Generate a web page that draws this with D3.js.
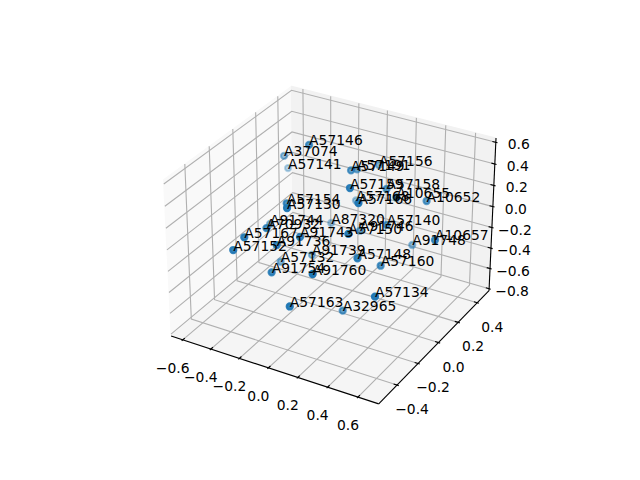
<!DOCTYPE html>
<meta charset="utf-8">
<head>
    <style>
        body { margin: 0; background: #fff; }
        text { font-family: "DejaVu Sans"; font-size: 13.89px; fill: #000; }
    </style>
</head>
<body>
    <div id="chart"></div>

    <script src="https://d3js.org/d3.v7.min.js"></script>
    <script>
        // chart data
        const labels = ['A57146','A37074','A57141','A57149','A57191','A57156','A57159','A57158','A57168','A57166',
                        'A10655','A10652','A57140','A91746','A57150','A91748','A10657','A57160','A57148','A57134',
                        'A32965','A57163','A91760','A91754','A57132','A91739','A91736','A57152','A57167','A91744',
                        'A70932','A91743','A87320','A57154','A57130'];
        const xs = [-0.158,-0.467,-0.545,0.056,0.012,0.084,0.224,0.266,-0.056,0.324,
                    0.434,0.489,0.320,0.120,0.318,0.345,0.656,0.384,0.362,0.539,
                    0.221,0.132,0.236,-0.084,-0.285,-0.169,-0.098,-0.268,-0.232,-0.437,
                    -0.213,0.007,-0.190,-0.147,-0.022];
        const ys = [0.008,0.178,0.311,0.104,0.221,0.331,-0.135,0.148,0.307,-0.195,
                    0.001,0.216,0.077,0.104,-0.276,0.298,0.056,-0.067,-0.253,-0.337,
                    -0.193,-0.544,-0.480,-0.423,-0.094,0.042,-0.359,-0.514,-0.464,0.006,
                    -0.301,-0.291,0.251,-0.207,-0.362];
        const zs = [0.672,0.324,0.072,0.439,0.336,0.313,0.539,0.309,-0.055,0.493,
                    0.418,0.224,0.056,-0.100,0.283,-0.320,0.067,-0.171,0.059,-0.142,
                    -0.547,-0.208,0.072,-0.097,-0.381,-0.392,0.091,0.116,0.202,-0.168,
                    0.150,0.146,-0.276,0.321,0.459];

        const xTicks = [-0.6,-0.4,-0.2,0.0,0.2,0.4,0.6];
        const yTicks = [-0.4,-0.2,0.0,0.2,0.4];
        const zTicks = [-0.8,-0.6,-0.4,-0.2,0.0,0.2,0.4,0.6];

        const xLim = [-0.655,0.707];
        const yLim = [-0.547,0.505];
        const zLim = [-0.79,0.61];

        // chart default setting
        let svgWidth = 640;
        let svgHeight = 480;
        let dist = 10;
        let gridColor = '#b0b0b0';
        let pointColor = '#1f77b4';

        // view vectors for elev 30, azim -60
        const u = [0.8660254,0.5,0];
        const v = [-0.25,0.4330127,0.8660254];
        const w = [0.4330127,-0.75,0.5];

        // Define scales
        let boxX = d3.scaleLinear().domain(xLim).range([-0.57145,0.57145]);
        let boxY = d3.scaleLinear().domain(yLim).range([-0.57145,0.57145]);
        let boxZ = d3.scaleLinear().domain(zLim).range([-0.4286,0.4286]);
        let screenX = d3.scaleLinear().domain([-0.095,0.09]).range([143.2,512.8]);
        let screenY = d3.scaleLinear().domain([-0.095,0.09]).range([427.2,57.6]);

        function dot(a, b) {
            return a[0]*b[0] + a[1]*b[1] + a[2]*b[2];
        }

        function depth(x, y, z) {
            return dot([boxX(x), boxY(y), boxZ(z)], w);
        }

        function project(x, y, z) {
            let d = [boxX(x), boxY(y), boxZ(z)];
            let s = dist - dot(d, w);
            return [screenX(dot(d, u) / s), screenY(dot(d, v) / s)];
        }

        // pane limits sit 1/48 of the range outside the axis limits
        function extend(lim) {
            let pad = (lim[1] - lim[0]) / 48;
            return [lim[0] - pad, lim[1] + pad];
        }
        const [x0, x1] = extend(xLim);
        const [y0, y1] = extend(yLim);
        const [z0, z1] = extend(zLim);
        const dx = (xLim[1] - xLim[0]) / 12;
        const dy = (yLim[1] - yLim[0]) / 12;

        let line = d3.line();
        let svg = d3.select('#chart')
            .append('svg')
            .attr('width', svgWidth)
            .attr('height', svgHeight)
            .style('display', 'block');

        // Draw panes
        let panes = [
            {color: '#f9f9f9', pts: [[x0,y0,z0],[x0,y1,z0],[x0,y1,z1],[x0,y0,z1]]},
            {color: '#f2f2f2', pts: [[x0,y1,z0],[x1,y1,z0],[x1,y1,z1],[x0,y1,z1]]},
            {color: '#f5f5f5', pts: [[x0,y0,z0],[x1,y0,z0],[x1,y1,z0],[x0,y1,z0]]}
        ];
        svg.append('g').selectAll('path')
            .data(panes)
            .enter()
            .append('path')
            .attr('d', d => line(d.pts.map(p => project(...p))) + 'Z')
            .style('fill', d => d.color)
            .style('stroke', d => d.color);

        // Draw grid
        let grid = [];
        xTicks.forEach(t => grid.push([[t,y0,z0],[t,y1,z0],[t,y1,z1]]));
        yTicks.forEach(t => grid.push([[x1,t,z0],[x0,t,z0],[x0,t,z1]]));
        zTicks.forEach(t => grid.push([[x0,y0,t],[x0,y1,t],[x1,y1,t]]));
        svg.append('g').selectAll('path')
            .data(grid)
            .enter()
            .append('path')
            .attr('d', d => line(d.map(p => project(...p))))
            .style('fill', 'none')
            .style('stroke', gridColor)
            .style('stroke-width', 1.11);

        // Draw axis lines
        let edges = [
            [[x0,y0,z0],[x1,y0,z0]],
            [[x1,y0,z0],[x1,y1,z0]],
            [[x1,y1,z0],[x1,y1,z1]]
        ];
        // Draw ticks (0.1 outward, 0.2 inward of the delta)
        xTicks.forEach(t => edges.push([[t,y0-0.1*dy,z0],[t,y0+0.2*dy,z0]]));
        yTicks.forEach(t => edges.push([[x1+0.1*dx,t,z0],[x1-0.2*dx,t,z0]]));
        zTicks.forEach(t => edges.push([[x1+0.1*dx,y1,t],[x1-0.2*dx,y1,t]]));
        svg.append('g').selectAll('path')
            .data(edges)
            .enter()
            .append('path')
            .attr('d', d => line(d.map(p => project(...p))))
            .style('fill', 'none')
            .style('stroke', '#000')
            .style('stroke-width', 1.11);

        // Tick labels
        function tickLabel(t) {
            return d3.format('.1f')(t).replace('-', '\u2212');
        }
        let tickText = [];
        xTicks.forEach(t => {
            let p = project(t, y0, z0);
            tickText.push({x: p[0] - 10, y: p[1] + 28, s: tickLabel(t)});
        });
        yTicks.forEach(t => {
            let p = project(x1, t, z0);
            tickText.push({x: p[0] + 15, y: p[1] + 24, s: tickLabel(t)});
        });
        zTicks.forEach(t => {
            let p = project(x1, y1, t);
            tickText.push({x: p[0] + 23, y: p[1] + 2, s: tickLabel(t)});
        });
        svg.append('g').selectAll('text')
            .data(tickText)
            .enter()
            .append('text')
            .attr('x', d => d.x)
            .attr('y', d => d.y)
            .attr('dy', '0.36em')
            .attr('text-anchor', 'middle')
            .text(d => d.s);

        // Draw points, the far ones first and paler
        let data = labels.map((name, i) => ({name: name, x: xs[i], y: ys[i], z: zs[i], depth: depth(xs[i], ys[i], zs[i])}));
        let alpha = d3.scaleLinear().domain(d3.extent(data, d => d.depth)).range([0.3, 1]);
        let sorted = data.slice().sort((a, b) => a.depth - b.depth);

        svg.append('g').selectAll('circle')
            .data(sorted)
            .enter()
            .append('circle')
            .attr('cx', d => project(d.x, d.y, d.z)[0])
            .attr('cy', d => project(d.x, d.y, d.z)[1])
            .attr('r', 3.1)
            .style('fill', pointColor)
            .style('stroke', pointColor)
            .style('stroke-width', 2.08)
            .style('fill-opacity', d => alpha(d.depth))
            .style('stroke-opacity', d => alpha(d.depth));

        // Point labels start at the point, on the baseline
        svg.append('g').selectAll('text')
            .data(data)
            .enter()
            .append('text')
            .attr('x', d => project(d.x, d.y, d.z)[0])
            .attr('y', d => project(d.x, d.y, d.z)[1] + 0.5)
            .text(d => d.name);
    </script>
</body>
